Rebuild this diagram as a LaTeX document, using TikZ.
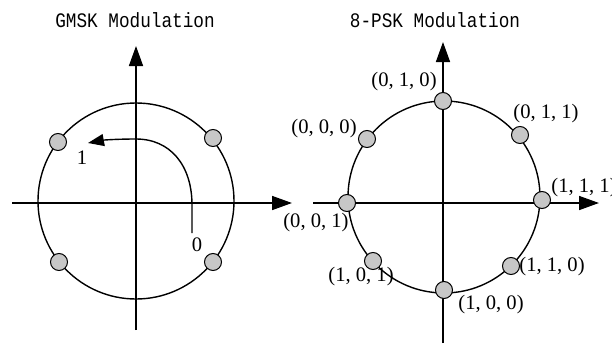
\documentclass[tikz,border=0pt]{standalone}
\usepackage{fontspec}
\setmainfont{Liberation Serif}
\newfontfamily\headfont{Liberation Mono}[FakeStretch=0.86]
\usetikzlibrary{arrows.meta}

\begin{document}
\begin{tikzpicture}[x=0.5pt, y=-0.5pt,
    axis/.style={line width=0.8pt, -{Triangle[length=10pt, width=7pt]}},
    rim/.style={line width=0.7pt},
    sym/.style={circle, draw, line width=0.5pt, fill=black!22,
                minimum size=8.5pt, inner sep=0pt},
    heading/.style={font=\headfont\fontsize{10.3}{12}\selectfont},
    lbl/.style={font=\fontsize{10.3}{12}\selectfont, inner sep=0pt},
    turn/.style={line width=0.7pt, -{Triangle[length=8pt, width=6pt]}}
  ]
  \useasboundingbox (0,0) rectangle (612,349);

  % GMSK
  \node[heading] (gtitle) at (135,20) {GMSK Modulation};
  \coordinate (gS) at (136,330); \coordinate (gN) at (136,46);
  \coordinate (gW) at (12,203);  \coordinate (gE) at (292,203);
  \draw[axis] (gS) -- (gN);
  \draw[axis] (gW) -- (gE);
  \draw[rim] (136,201) circle[radius=49pt];
  \node[sym] (g1) at (58,142) {};
  \node[sym] (g2) at (213,138) {};
  \node[sym] (g3) at (59,262) {};
  \node[sym] (g4) at (213,262) {};
  \coordinate (arcA) at (192,233); \coordinate (arcB) at (88,143);
  \draw[turn] (arcA) -- (192,205) .. controls (192,165) and (170,139) .. (136,139)
    .. controls (118,139) and (104,140) .. (arcB);
  \node[lbl] (one) at (82,158) {1};
  \node[lbl] (zero) at (197,245) {0};

  % 8-PSK
  \node[heading] (ptitle) at (435,20) {8-PSK Modulation};
  \coordinate (pS) at (443,343); \coordinate (pN) at (443,42);
  \coordinate (pW) at (313,203); \coordinate (pE) at (599,203);
  \draw[axis] (pS) -- (pN);
  \draw[axis] (pW) -- (pE);
  \draw[rim] (444,197) circle[radius=48pt];
  \node[sym] (p010) at (443,101) {};
  \node[sym] (p011) at (520,135) {};
  \node[sym] (p111) at (542,200) {};
  \node[sym] (p110) at (511,266) {};
  \node[sym] (p100) at (444,290) {};
  \node[sym] (p101) at (373,261) {};
  \node[sym] (p001) at (347,203) {};
  \node[sym] (p000) at (367,139) {};
  \node[lbl] (t010) at (404,82) {(0, 1, 0)};
  \node[lbl] (t011) at (546,114) {(0, 1, 1)};
  \node[lbl, anchor=west] (t111) at (551,188) {(1, 1, 1)};
  \node[lbl] (t110) at (552,267) {(1, 1, 0)};
  \node[lbl] (t100) at (491,305) {(1, 0, 0)};
  \node[lbl] (t101) at (361,277) {(1, 0, 1)};
  \node[lbl] (t001) at (316,223) {(0, 0, 1)};
  \node[lbl] (t000) at (324,129) {(0, 0, 0)};
\end{tikzpicture}
\end{document}
